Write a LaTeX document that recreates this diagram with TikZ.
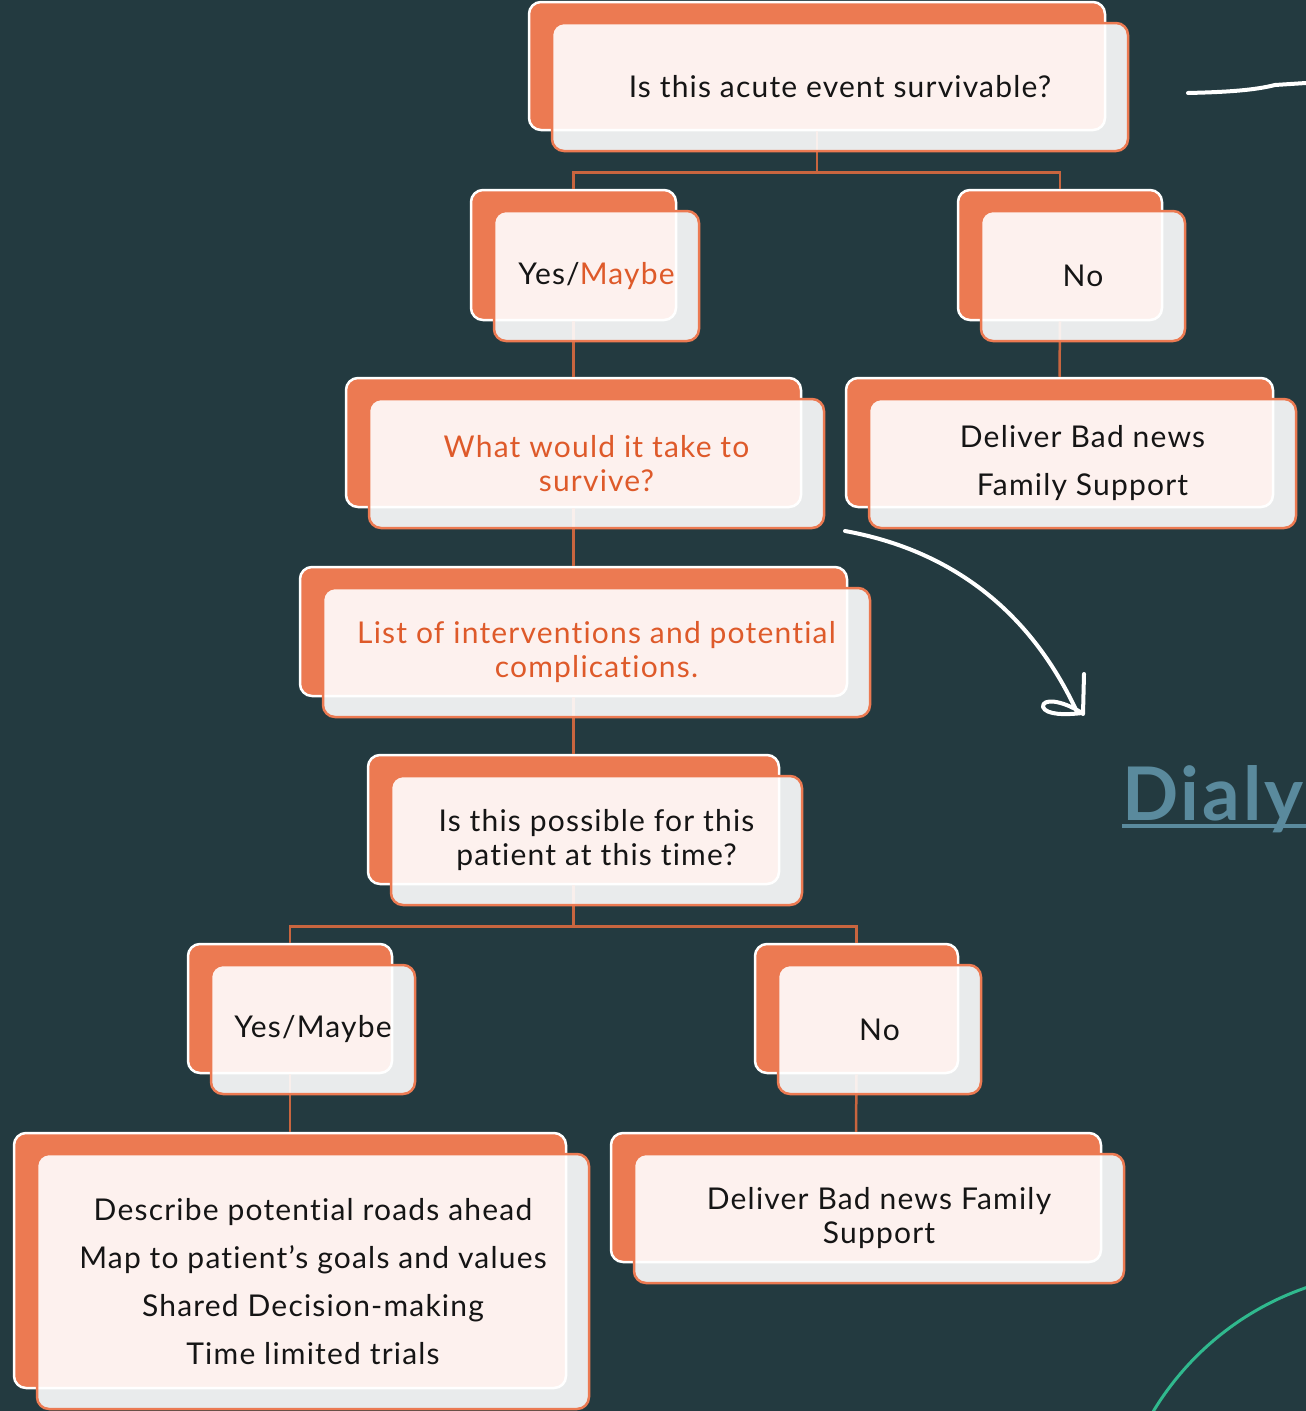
\documentclass[tikz,border=0pt]{standalone}
\usepackage{fontspec}
\setmainfont{Lato}[LetterSpace=4, Ligatures=NoCommon]
\definecolor{bgteal}{HTML}{233A40}
\definecolor{boxorange}{HTML}{EC7A52}
\definecolor{linkorange}{HTML}{C8653F}
\definecolor{ortext}{HTML}{DE5A2A}
\definecolor{inkblack}{HTML}{151515}
\definecolor{dialblue}{HTML}{5A8A9D}
\definecolor{arcgreen}{HTML}{30B98E}
\begin{document}
\begin{tikzpicture}[x=1pt, y=-1pt,
  backbox/.style={draw=white, line width=2.5pt, fill=boxorange, rounded corners=12pt},
  frontbox/.style={draw=boxorange, line width=2.5pt, fill=white, fill opacity=0.9, text opacity=1,
    rounded corners=12pt, align=center, text=inkblack, font=\fontsize{30}{34}\selectfont},
  link/.style={draw=linkorange, line width=2.5pt},
  scribble/.style={draw=white, line width=4pt, line cap=round, line join=round}]
\useasboundingbox (0,0) rectangle (1306,1411);
\clip (0,0) rectangle (1306,1411);
\fill[bgteal] (0,0) rectangle (1306,1411);
% back layer
\node[backbox, minimum width=576, minimum height=128] (survB) at (817,66) {};
\node[backbox, minimum width=205, minimum height=130] (yes1B) at (573.5,255) {};
\node[backbox, minimum width=204, minimum height=130] (no1B) at (1060,255) {};
\node[backbox, minimum width=455, minimum height=129] (takeB) at (573.5,442.5) {};
\node[backbox, minimum width=427, minimum height=129] (bad1B) at (1059.5,442.5) {};
\node[backbox, minimum width=547, minimum height=129] (listB) at (573.5,631.5) {};
\node[backbox, minimum width=411, minimum height=129] (possB) at (573.5,819.5) {};
\node[backbox, minimum width=204, minimum height=129] (yes2B) at (290,1008.5) {};
\node[backbox, minimum width=203, minimum height=129] (no2B) at (856.5,1008.5) {};
\node[backbox, minimum width=552, minimum height=255] (roadB) at (290,1260.5) {};
\node[backbox, minimum width=490, minimum height=129] (bad2B) at (856,1197.5) {};
% links
\draw[link] (survB.south) -- ++(0,41) -| (yes1B.north);
\draw[link] (survB.south) -- ++(0,41) -| (no1B.north);
\draw[link] (yes1B.south) -- (takeB.north);
\draw[link] (no1B.south) -- (bad1B.north);
\draw[link] (takeB.south) -- (listB.north);
\draw[link] (listB.south) -- (possB.north);
\draw[link] (possB.south) -- ++(0,41) -| (yes2B.north);
\draw[link] (possB.south) -- ++(0,41) -| (no2B.north);
\draw[link] (yes2B.south) -- (roadB.north);
\draw[link] (no2B.south) -- (bad2B.north);
% front layer
\node[frontbox, minimum width=576, minimum height=128] (surv) at (840,87) {Is this acute event survivable?};
\node[frontbox, minimum width=205, minimum height=130] (yes1) at (596.5,276) {Yes/\textcolor{ortext}{Maybe}};
\node[frontbox, minimum width=204, minimum height=130] (no1) at (1083,276) {No};
\node[frontbox, minimum width=455, minimum height=129, text=ortext] (take) at (596.5,463.5) {What would it take to\\survive?};
\node[frontbox, minimum width=427, minimum height=129] (bad1) at (1082.5,463.5) {Deliver Bad news\\[14pt]Family Support};
\node[frontbox, minimum width=547, minimum height=129, text=ortext] (list) at (596.5,652.5) {List of interventions and potential\\complications.};
\node[frontbox, minimum width=411, minimum height=129] (poss) at (596.5,840.5) {Is this possible for this\\patient at this time?};
\node[frontbox, minimum width=204, minimum height=129] (yes2) at (313,1029.5) {Yes/Maybe};
\node[frontbox, minimum width=203, minimum height=129] (no2) at (879.5,1029.5) {No};
\node[frontbox, minimum width=552, minimum height=255] (road) at (313,1281.5) {Describe potential roads ahead\\[14pt]Map to patient’s goals and values\\[14pt]Shared Decision-making\\[14pt]Time limited trials};
\node[frontbox, minimum width=490, minimum height=129] (bad2) at (879,1218.5) {Deliver Bad news Family\\Support};
% scribbles
\draw[scribble] (1188,93) .. controls (1230,92) and (1255,90) .. (1275,85) -- (1306,83);
\draw[scribble] (845,531) .. controls (950,550) and (1030,610) .. (1077,712);
\draw[scribble] (1084,674) -- (1083,714);
\draw[scribble] (1082,713) .. controls (1062,700) and (1042,698) .. (1043,707) .. controls (1046,715) and (1066,715) .. (1082,713);
\node[anchor=base west, inner sep=0, text=dialblue, font=\fontsize{74}{80}\selectfont\bfseries] (dial) at (1122,820) {Dialy};
\draw[dialblue, line width=3.5pt] (1122,826) -- (1306,826);
\draw[arcgreen, line width=3pt] (1400,1560) circle [radius=288pt];
\end{tikzpicture}
\end{document}
